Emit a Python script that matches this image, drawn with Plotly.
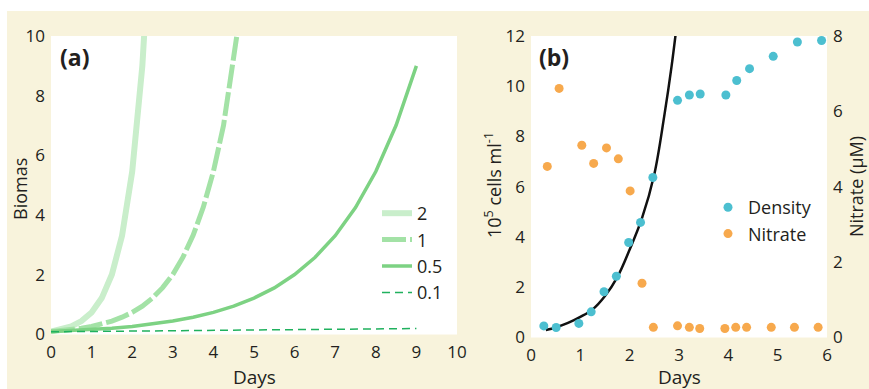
import plotly.graph_objects as go

# ---------- Panel (a) data ----------
days_r2 = [0, 0.25, 0.5, 0.75, 1.0, 1.25, 1.5, 1.75, 2.0, 2.25, 2.5]
bio_r2 = [0.10, 0.16, 0.27, 0.45, 0.74, 1.22, 2.01, 3.31, 5.46, 9.0, 14.8]

days_r1 = [0, 0.25, 0.5, 0.75, 1.0, 1.25, 1.5, 1.75, 2.0, 2.25, 2.5, 2.75, 3.0,
           3.25, 3.5, 3.75, 4.0, 4.25, 4.5, 4.75, 5.0]
bio_r1 = [0.10, 0.13, 0.16, 0.21, 0.27, 0.35, 0.45, 0.58, 0.74, 0.95, 1.22, 1.57,
          2.01, 2.59, 3.32, 4.26, 5.46, 7.01, 9.03, 11.6, 14.8]

days_r05 = [0, 0.5, 1, 1.5, 2, 2.5, 3, 3.5, 4, 4.5, 5, 5.5, 6, 6.5, 7, 7.5, 8, 8.5, 9]
bio_r05 = [0.10, 0.13, 0.16, 0.21, 0.27, 0.35, 0.45, 0.58, 0.74, 0.95, 1.22, 1.56,
           2.01, 2.58, 3.31, 4.25, 5.46, 7.01, 9.0]

days_r01 = [0, 1, 2, 3, 4, 5, 6, 7, 8, 9]
bio_r01 = [0.09, 0.10, 0.11, 0.12, 0.13, 0.14, 0.15, 0.16, 0.18, 0.20]

rate_labels = ["2", "1", "0.5", "0.1"]

# ---------- Panel (b) data ----------
dens_days = [0.26, 0.51, 0.97, 1.22, 1.48, 1.73, 1.98, 2.22, 2.47, 2.97, 3.21,
             3.43, 3.95, 4.17, 4.43, 4.91, 5.40, 5.89]
dens_vals = [0.46, 0.40, 0.56, 1.02, 1.82, 2.44, 3.78, 4.58, 6.37, 9.44, 9.65,
             9.69, 9.65, 10.23, 10.70, 11.19, 11.76, 11.82]

nit_days = [0.33, 0.57, 1.03, 1.27, 1.53, 1.77, 2.01, 2.25, 2.48, 2.97, 3.21,
            3.42, 3.93, 4.15, 4.37, 4.87, 5.34, 5.82]
nit_vals = [4.54, 6.61, 5.10, 4.62, 5.03, 4.74, 3.89, 1.44, 0.27, 0.31, 0.27,
            0.24, 0.24, 0.27, 0.27, 0.27, 0.27, 0.27]

fit_days = [0.3, 0.5, 0.75, 1.0, 1.25, 1.5, 1.75, 2.0, 2.25, 2.5, 2.7, 2.85, 3.0]
fit_vals = [0.30, 0.40, 0.58, 0.82, 1.12, 1.65, 2.4, 3.5, 4.75, 6.5, 8.8, 10.8, 13.2]

# ---------- styling ----------
CREAM = "#f8f3dc"
TXT = "#231f20"
FONT = "Open Sans"
W, H = 869, 389

fig = go.Figure()

fig.add_trace(go.Scatter(x=days_r2, y=bio_r2, mode="lines", name=rate_labels[0],
                         line=dict(color="#c9eecb", width=6), xaxis="x", yaxis="y",
                         legend="legend"))
fig.add_trace(go.Scatter(x=days_r1, y=bio_r1, mode="lines", name=rate_labels[1],
                         line=dict(color="#a3e2a6", width=5, dash="24px,4px"),
                         xaxis="x", yaxis="y", legend="legend"))
fig.add_trace(go.Scatter(x=days_r05, y=bio_r05, mode="lines", name=rate_labels[2],
                         line=dict(color="#7dd283", width=3.5), xaxis="x", yaxis="y",
                         legend="legend"))
fig.add_trace(go.Scatter(x=days_r01, y=bio_r01, mode="lines", name=rate_labels[3],
                         line=dict(color="#20b15e", width=1.5, dash="8px,5px"),
                         xaxis="x", yaxis="y", legend="legend"))

fig.add_trace(go.Scatter(x=fit_days, y=fit_vals, mode="lines", showlegend=False,
                         line=dict(color="#111111", width=2.5, shape="spline"),
                         xaxis="x2", yaxis="y2"))
fig.add_trace(go.Scatter(x=dens_days, y=dens_vals, mode="markers", name="Density",
                         marker=dict(color="#4cbfd0", size=9), xaxis="x2", yaxis="y2",
                         legend="legend2"))
fig.add_trace(go.Scatter(x=nit_days, y=nit_vals, mode="markers", name="Nitrate",
                         marker=dict(color="#f7a94d", size=9), xaxis="x2", yaxis="y3",
                         legend="legend2"))

tickfont = dict(family=FONT, size=17, color=TXT)
common = dict(showgrid=False, zeroline=False, showline=False, ticks="",
              tickfont=tickfont, ticklabelstandoff=5, fixedrange=True,
              automargin=False)

def px_x(p):
    return p / W

def px_y(p):
    return 1 - p / H

def label(text, x, y, angle=0, size=18):
    return dict(text=text, x=px_x(x), y=px_y(y),
                xref="paper", yref="paper", xanchor="center", yanchor="middle",
                textangle=angle, showarrow=False,
                font=dict(family=FONT, size=size, color=TXT))

fig.update_layout(
    width=W, height=H, autosize=False,
    margin=dict(l=0, r=0, t=0, b=0, pad=0, autoexpand=False),
    paper_bgcolor=CREAM, plot_bgcolor="white",
    font=dict(family=FONT, color=TXT),
    xaxis=dict(domain=[px_x(51), px_x(457)], range=[0, 10], dtick=1, anchor="y", **common),
    yaxis=dict(domain=[px_y(334.5), px_y(36)], range=[0, 10], dtick=2, anchor="x", **common),
    xaxis2=dict(domain=[px_x(531), px_x(827)], range=[0, 6], dtick=1, anchor="y2", **common),
    yaxis2=dict(domain=[px_y(337.5), px_y(36)], range=[0, 12], dtick=2, anchor="x2", **common),
    yaxis3=dict(range=[0, 8], dtick=2, overlaying="y2", side="right", anchor="x2", **common),
    legend=dict(x=px_x(377), y=px_y(195), xanchor="left", yanchor="top",
                bgcolor="rgba(0,0,0,0)", font=dict(family=FONT, size=18, color=TXT),
                tracegroupgap=0),
    legend2=dict(x=px_x(708), y=px_y(189), xanchor="left", yanchor="top",
                 bgcolor="rgba(0,0,0,0)", font=dict(family=FONT, size=18, color=TXT)),
    shapes=[
        dict(type="rect", xref="paper", yref="paper", x0=0, x1=1, y0=px_y(11), y1=1,
             fillcolor="white", line=dict(width=0), layer="below"),
        dict(type="rect", xref="paper", yref="paper", x0=0, x1=px_x(7), y0=0, y1=1,
             fillcolor="white", line=dict(width=0), layer="below"),
    ],
    annotations=[
        dict(text="<b>(a)</b>", x=px_x(58), y=px_y(57), xref="paper", yref="paper",
             xanchor="left", yanchor="middle", showarrow=False,
             font=dict(family=FONT, size=23, color=TXT)),
        dict(text="<b>(b)</b>", x=px_x(537), y=px_y(57), xref="paper", yref="paper",
             xanchor="left", yanchor="middle", showarrow=False,
             font=dict(family=FONT, size=23, color=TXT)),
        label("Biomas", 20, 189),
        label("Days", 254, 377, size=19),
        label("Days", 679, 377, size=19),
        label("10<sup>5</sup> cells ml<sup>-1</sup>", 493, 185),
        label("Nitrate (μM)", 856, 187),
    ],
)
# rotate the vertical axis titles
for ann in fig.layout.annotations:
    if ann.text in ("Biomas", "10<sup>5</sup> cells ml<sup>-1</sup>", "Nitrate (μM)"):
        ann.textangle = -90

post = (
    "document.documentElement.style.margin='0';"
    "document.body.style.margin='0';"
    "document.documentElement.style.overflow='hidden';"
    "document.body.style.overflow='hidden';"
    "var gd=document.getElementById('{plot_id}');"
    "var w=window.innerWidth,h=window.innerHeight;"
    "if(w>0&&h>0&&(w!==869||h!==389)){Plotly.relayout(gd,{width:w,height:h});}"
)

fig.write_html("out.html", post_script=post)
